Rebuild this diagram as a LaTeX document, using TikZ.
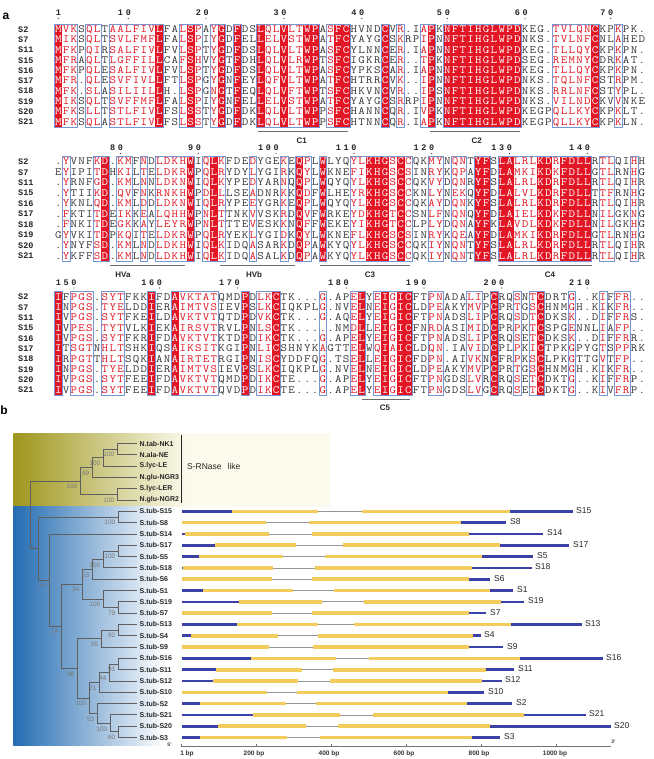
\documentclass[tikz,border=0pt]{standalone}
\usepackage{fontspec}
\setmainfont{Liberation Sans}
\setsansfont{Liberation Sans}
\newfontfamily\monofnt{Liberation Mono}
\usepackage{graphicx}

\definecolor{espred}{RGB}{226,22,36}
\definecolor{espbox}{RGB}{118,150,212}
\definecolor{esptxt}{RGB}{55,55,55}
\definecolor{featgray}{RGB}{110,110,110}
\definecolor{treegray}{RGB}{95,95,95}
\definecolor{bootgray}{RGB}{120,120,120}
\definecolor{olv}{RGB}{158,150,28}
\definecolor{olvlight}{RGB}{251,250,236}
\definecolor{blu}{RGB}{36,108,178}
\definecolor{exonY}{RGB}{242,204,92}
\definecolor{utrB}{RGB}{58,66,168}
\definecolor{intronG}{RGB}{150,150,150}

\tikzset{
 seqbase/.style={inner sep=0pt, anchor=base},
 seqn/.style={seqbase, text=esptxt, font=\ttfamily\fontsize{11}{11}\selectfont\addfontfeature{FakeBold=0.6}},
 seqb/.style={seqbase, text=espred, font=\ttfamily\fontsize{11}{11}\selectfont\addfontfeature{FakeBold=0.6}},
 seqR/.style={seqbase, text=white, font=\ttfamily\fontsize{11}{11}\selectfont\addfontfeature{FakeBold=1.6}},
 seqname/.style={inner sep=0pt, anchor=base west, font=\monofnt\bfseries\fontsize{8.5}{8.5}\selectfont, text=black!85},
 rul/.style={inner sep=0pt, anchor=base, font=\monofnt\bfseries\fontsize{8.5}{8.5}\selectfont, text=black!85},
 boxline/.style={draw=espbox, line width=0.55pt},
 featline/.style={draw=featgray, line width=0.9pt},
 featlab/.style={inner sep=0pt, font=\sffamily\bfseries\fontsize{8}{8}\selectfont, text=black!85},
 panlab/.style={inner sep=0pt, font=\sffamily\bfseries\fontsize{12}{12}\selectfont},
 treeline/.style={draw=treegray, line width=0.9pt},
 boot/.style={inner sep=0pt, anchor=east, font=\sffamily\fontsize{6.5}{6.5}\selectfont, text=bootgray},
 leaflab/.style={inner sep=0pt, anchor=west, font=\sffamily\bfseries\fontsize{7}{7}\selectfont, text=black!85},
 genelab/.style={inner sep=0pt, anchor=west, font=\sffamily\fontsize{8.5}{8.5}\selectfont, text=black!85},
 utr/.style={draw=utrB, line width=2.6pt},
 exon/.style={draw=exonY, line width=3.6pt},
 intr/.style={draw=intronG, line width=0.8pt},
 axisl/.style={draw=black!55, line width=0.7pt},
 axlab/.style={inner sep=0pt, font=\sffamily\bfseries\fontsize{6.5}{6.5}\selectfont, text=black!80},
}

\newcount\colno
\newcount\runstart
\newcount\runend
\def\xo{58.3}
\def\pp{7.78}

\def\DrawBoxM{\draw[boxline] ({\xo+(\the\runstart-1.5)*\pp},\ytop) rectangle ({\xo+(\the\runend-0.5)*\pp},\ybot);}
\def\FillColM{\fill[espred] ({\xo+(\the\colno-1.5)*\pp-0.1},\ytop) rectangle ({\xo+(\the\colno-0.5)*\pp+0.1},\ybot);}

\def\ColStep#1{%
  \ifx#1!%
    \ifnum\runstart>0 \runend=\colno \advance\runend by -1 \DrawBoxM\fi
    \let\nxt\relax
  \else
    \ifx#1.%
      \ifnum\runstart>0 \runend=\colno \advance\runend by -1 \DrawBoxM \runstart=0 \fi
    \else
      \ifnum\runstart=0 \runstart=\colno\fi
      \ifx#1R\FillColM\fi
    \fi
    \advance\colno by 1
    \let\nxt\ColStep
  \fi
  \nxt}

\def\BlockCols#1#2{\def\ytop{#1}\def\ybot{#2}\colno=1 \runstart=0 \expandafter\ColStep\cls!}

\def\PlaceChar#1#2{%
  \ifx#2R\node[seqR] at ({\xo+(\the\colno-1)*\pp},\ybase) {\scalebox{1.15}[1]{#1}};%
  \else\ifx#2b\node[seqb] at ({\xo+(\the\colno-1)*\pp},\ybase) {\scalebox{1.15}[1]{#1}};%
  \else\node[seqn] at ({\xo+(\the\colno-1)*\pp},\ybase) {\scalebox{1.15}[1]{#1}};%
  \fi\fi}

\def\RowStep#1#2\relax#3#4\relax{%
  \ifx#1!\let\nxt\relax\else
    \PlaceChar#1#3%
    \advance\colno by 1
    \def\nxt{\RowStep#2\relax#4\relax}%
  \fi\nxt}

\def\SeqRow#1#2#3{%
  \node[seqname] (nm#1#2) at (18,{#2+2.9}) {#1};%
  \def\ybase{#2+3.3}%
  \colno=1
  \edef\tmp{\noexpand\RowStep#3!\relax\cls..........!\relax}\tmp}

\def\RulDigit#1#2#3{\node[rul] at ({\xo+(#1-1)*\pp},#2) {#3};}
\def\RulOne#1#2#3{\RulDigit{#1}{#2}{#3}\fill[black!80] ({\xo+(#1-1)*\pp},#2+2.5) circle (0.6);}
\def\RulTwo#1#2#3#4{\RulDigit{#1-1}{#2}{#3}\RulOne{#1}{#2}{#4}}
\def\RulThree#1#2#3#4#5{\RulDigit{#1-2}{#2}{#3}\RulTwo{#1}{#2}{#4}{#5}}

\def\Feat#1#2#3#4#5#6{\draw[featline] (#1,#3) -- (#2,#3); \node[featlab] (f#6) at (#4,#5) {#6};}

\def\Gene#1#2#3#4#5#6#7#8{%
  \draw[intr] (#3,#1) -- (#4,#1);
  \draw[exon] (#2,#1) -- (#3,#1);
  \draw[exon] (#4,#1) -- (#5,#1);
  \draw[utr] (181.7,#1) -- (#2,#1);
  \draw[utr] (#5,#1) -- (#6,#1);
  \node[genelab] (g#8) at (#7,#1-1) {#8};}

\begin{document}
\begin{tikzpicture}[x=1pt,y=-1pt]
\useasboundingbox (0,0) rectangle (653,759);
\fill[white] (0,0) rectangle (653,759);

\node[panlab] (pa) at (6,16) {a};

% ---------------- Block 1
\def\cls{Rbb.bb.bbbbbbR..bRb.bR.R..RbbRbbRR.bRR....R.b..bR.RRRRRRRRRR....bbbbbR..b...}
\BlockCols{24.1}{126.9}
\SeqRow{S2}{29.3}{MVKSQLTAALFIVLFALSPAYGDFDSLQLVLTWPASFCHVNDCVR.IAPKNFTIHGLWPDKEG.TVLQNCKPKPK.}
\SeqRow{S7}{39.57}{MIKSQLTSVLFMFLFALSPIYGDFELLELVSTWPATFCYAYGCSKRPIPNNFTIHGLWPDNKS.TVLNFCNLAHED}
\SeqRow{S11}{49.84}{MFKPQIRSALFIVLFVLSPTYGDFDSLQLVLTWPASFCYLNNCER.IAPNNFTIHGLWPDKEG.TLLQYCKPKPN.}
\SeqRow{S15}{60.11}{MFRAQLTLGFFILLCAFSHVYGTFDHLQLVLRWPTSFCIGKRCER..TPKNFTIHGLWPDSEG.REMNYCDRKAT.}
\SeqRow{S16}{70.38}{MFKPQLESALFIVLFVLSPTYGDFDSLQLVLTWPASFCYPKSCAR.IAPNNFTIHGLWPDKEG.TLLQYCKPKPN.}
\SeqRow{S17}{80.65}{MFR.QLESVFIVLLFTLSPGYGNFEYLQFVLTWPATFCHTRRCVK..IPNNFTIHGLWPDNKS.TQLNFCSTRPM.}
\SeqRow{S18}{90.92}{MFK.SLASILIILLH.LSPGNGTFEQLQLVFTWPTSFCHKVNCVR..IPSNFTIHGLWPDNKS.RRLNFCSTYPL.}
\SeqRow{S19}{101.19}{MIKSQLTSVFFMFLFALSPIYGNFELLELVSTWPATFCYAYGCSRRPIPNNFTIHGLWPDNKS.VILNDCKVVNKE}
\SeqRow{S20}{111.46}{MFKSLLTSTLFIVLFSLSSTYGDFDKLQLVLTWPPSFCHANNCQR.IVPKNFTIHGLWPDKEGPQLLKYCKPKLT.}
\SeqRow{S21}{121.73}{MFKSQLASTLFIVLFSLSSTYGDFDKLQLVLTWPPSFCHTNNCQR.IAPKNFTIHGLWPDKEGPQLLKYCKPKLN.}
\RulOne{1}{16}{1}
\RulTwo{10}{16}{1}{0}
\RulTwo{20}{16}{2}{0}
\RulTwo{30}{16}{3}{0}
\RulTwo{40}{16}{4}{0}
\RulTwo{51}{16}{5}{0}
\RulTwo{61}{16}{6}{0}
\RulTwo{72}{16}{7}{0}
\Feat{258}{348}{131.7}{301.7}{141.2}{C1}
\Feat{430}{520}{131.7}{476.7}{141.2}{C2}

% ---------------- Block 2
\def\cls{.b...bR.bb.b.bbbbR.bRb...b...b.Rb.R...bbRRRbRb..bb.bb.RR.RRbbbRRbRRRR.bb..b.}
\BlockCols{156.4}{261.0}
\SeqRow{S2}{161.7}{.YVNFKD.KMFNDLDKHWIQLKFDEDYGEKEQPLWLYQYLKHGSCCQKMYNQNTYFSLALRLKDRFDLLRTLQIHH}
\SeqRow{S7}{172.15}{EYIPITDHKILTELDKRWPQLRYDYLYGIRKQYLWKNEFIKHGSCSINRYKQPAYFDLAMKIKDKFDLLGTLRNHG}
\SeqRow{S11}{182.6}{.YRNFGD.KMLNNLDKNWIQLKYPEDYARNQQPLWQYQYLKHGSCCQKVYDQNRYFSLALRLKDRFDLLRTLQIHR}
\SeqRow{S15}{193.05}{.YTIIKD.QVFNKRNKHWPDLLLSEADNRKKQDFWLHEYRKHGSCCKNLYNEKQYFDLALVLKDRFDLLTTFRNHG}
\SeqRow{S16}{203.5}{.YKNLQD.KMLDDLDKNWIQLRYPEEYGRKEQPLWQYQYLKHGSCCQKAYDQNKYFSLALRLKDRFDLLRTLQIHR}
\SeqRow{S17}{213.95}{.FKTITDEIKKEALQHHWPNLTTNKVVSKRDQVFWRKEYDKHGTCCSNLFNQNQYFDLAIELKDKFDLLNILGKNG}
\SeqRow{S18}{224.4}{.FNKITDEGKKAYLEYRWPNLTTTEVESKKNQFFWEKEYIKHGTCCLPLYDQNAYFKLAVDLKDKFDLLNILGKHG}
\SeqRow{S19}{234.85}{GYVKITDPKQITELDKRWPQLRYEKLYGIDKQYLWKNEFLKHGSCSINRYKQEAYFDLAMKIKDRFDLLGTLRNHG}
\SeqRow{S20}{245.3}{.YNYFSD.KMLNDLDKHWIQLKIDQASARKDQPAWKYQYLKHGSCCQKIYNQNTYFSLALRLKDRFDLLRTLQIHR}
\SeqRow{S21}{255.75}{.YKFFSD.KMLNDLDKHWIQLKIDQASALKDQPAWKYQYLKHGSCCQKIYNQNTYFSLALRLKDRFDLLRTLQIHR}
\RulTwo{9}{151}{8}{0}
\RulTwo{19}{151}{9}{0}
\RulThree{29}{151}{1}{0}{0}
\RulThree{39}{151}{1}{1}{0}
\RulThree{49}{151}{1}{2}{0}
\RulThree{59}{151}{1}{3}{0}
\RulThree{69}{151}{1}{4}{0}
\Feat{110}{185}{265.7}{123}{274.5}{HVa}
\Feat{220}{295}{265.7}{254}{274.5}{HVb}
\Feat{320}{410}{265.7}{370}{274.5}{C3}
\Feat{498}{592}{265.7}{550}{274.5}{C4}

% ---------------- Block 3
\def\cls{R.bbb.bbb...R..Rbbbbb...R.bbR.....b...bR.bRbRR..bb...bb.R..b.bR...b...b.bb..}
\BlockCols{291.7}{395.0}
\SeqRow{S2}{297}{IFPGS.SYTFKKIFDAVKTATQMDPDLKCTK...G.APELYEIGICFTPNADALIPCRQSNTCDRTG..KIFFR..}
\SeqRow{S7}{307.3}{INPGS.TYELDDIERAIMTVSIEVPSLKCIQKPLG.NVELNEIGICLDPEAKYMVPCPRTGSCHNMGH.KIKFR..}
\SeqRow{S11}{317.6}{IVPGS.SYTFKEILDAVKTVTQTDPDVKCTK...G.AQELYEIGICFTPNADSLIPCRQSDTCDKSK..DIFFRS.}
\SeqRow{S15}{327.9}{IVPES.TYTVLKIEKAIRSVTRVLPNLSCTK.....NMDLLEIGICFNRDASIMIDCPRPKTCSPGENNLIAFP..}
\SeqRow{S16}{338.2}{IVPGS.SYTFKRIFDAVKTVTKTDPDIKCTK...G.APELYEIGICFTPNADSLIPCRQSETCDKSK..DIFFRR.}
\SeqRow{S17}{348.5}{ITSGTNHLTSHKIQSAIKSITKGIPNLICSHNYKAGTTELWQIAICLDQN.IAVIDCPLPKICTPKGPYGTSPPRK}
\SeqRow{S18}{358.8}{IRPGTTHLTSQKIANAIRTETRGIPNISCYDDFQG.TSELLEIGICFDPN.AIVKNCFRPKSCLPKGTTGVTFP..}
\SeqRow{S19}{369.1}{INPGS.TYELDDIERAIMTVSIEVPSLKCIQKPLG.NVELNEIGICLDPEAKYMVPCPRTGSCHNMGH.KIKFR..}
\SeqRow{S20}{379.4}{IVPGS.SYTFEEIFDAVKTVTQMDPDIKCTE...G.APELYEIGICFTPNGDSLVRCRQSETCDKTG..KIFFRP.}
\SeqRow{S21}{389.7}{IVPGS.SYTFEEIFDAVKTVTQVDPDIKCTE...G.APELYEIGICFTPNGDSLVGCRQSETCDKTG..KIVFRP.}
\RulThree{3}{285.5}{1}{5}{0}
\RulThree{14}{285.5}{1}{6}{0}
\RulThree{24}{285.5}{1}{7}{0}
\RulThree{38}{285.5}{1}{8}{0}
\RulThree{48}{285.5}{1}{9}{0}
\RulThree{58}{285.5}{2}{0}{0}
\RulThree{69}{285.5}{2}{1}{0}
\Feat{361.7}{410}{399.5}{385}{408}{C5}

% ================= Panel b
\node[panlab] (pb) at (4,410) {b};
\shade[left color=olv, right color=olvlight] (13.3,433.3) rectangle (186,506.5);
\fill[olvlight] (185.5,433.3) rectangle (330,506.5);
\shade[left color=blu, right color=white] (13.3,506.5) rectangle (165,745);

% leaves
\foreach \k/\lab in {0/N.tab-NK1,1/N.ala-NE,2/S.lyc-LE,3/N.glu-NGR3,4/S.lyc-LER,5/N.glu-NGR2,
  6/S.tub-S15,7/S.tub-S8,8/S.tub-S14,9/S.tub-S17,10/S.tub-S5,11/S.tub-S18,12/S.tub-S6,13/S.tub-S1,
  14/S.tub-S19,15/S.tub-S7,16/S.tub-S13,17/S.tub-S4,18/S.tub-S9,19/S.tub-S16,20/S.tub-S11,
  21/S.tub-S12,22/S.tub-S10,23/S.tub-S2,24/S.tub-S21,25/S.tub-S20,26/S.tub-S3}{
  \coordinate (l\k) at (137,{443.5+11.31*\k});
  \node[leaflab] (t\k) at (139.5,{443.5+11.31*\k}) {\lab};
}

% internal nodes
\coordinate (n1) at (117,449.16);
\coordinate (n2) at (103,457.64);
\coordinate (n3) at (92,467.53);
\coordinate (n4) at (117,494.40);
\coordinate (n5) at (80,480.97);
\coordinate (b1) at (118,517.02);
\coordinate (b2) at (118,550.95);
\coordinate (b3) at (103,559.43);
\coordinate (b4) at (92,569.33);
\coordinate (b5) at (118,607.50);
\coordinate (b6) at (103,599.01);
\coordinate (b7) at (82,584.17);
\coordinate (b8) at (118,630.12);
\coordinate (b9) at (101,638.60);
\coordinate (b10) at (118,664.05);
\coordinate (b11) at (109,672.53);
\coordinate (b12) at (99,682.43);
\coordinate (b13) at (118,731.91);
\coordinate (b14) at (110,723.42);
\coordinate (b15) at (97,713.53);
\coordinate (b16) at (89,697.98);
\coordinate (b17) at (77,668.29);
\coordinate (b18) at (61,626.23);
\coordinate (b19) at (49,580.11);
\coordinate (b20) at (38,548.56);
\coordinate (r0) at (30,514.77);

\foreach \p/\c in {n1/l0,n1/l1,n2/n1,n2/l2,n3/n2,n3/l3,n4/l4,n4/l5,n5/n3,n5/n4,
  b1/l6,b1/l7,b2/l9,b2/l10,b3/b2,b3/l11,b4/b3,b4/l12,b5/l14,b5/l15,b6/l13,b6/b5,b7/b4,b7/b6,
  b8/l16,b8/l17,b9/b8,b9/l18,b10/l19,b10/l20,b11/b10,b11/l21,b12/b11,b12/l22,
  b13/l25,b13/l26,b14/l24,b14/b13,b15/l23,b15/b14,b16/b12,b16/b15,b17/b9,b17/b16,
  b18/b7,b18/b17,b19/l8,b19/b18,b20/b1,b20/b19,r0/n5,r0/b20}{
  \draw[treeline] (\p) |- (\c);
}

% bootstrap values
\foreach \n/\v in {n1/100,n2/100,n3/99,n4/100,n5/100,b1/100,b2/100,b3/100,b4/53,b5/79,b6/100,b7/34,
  b8/92,b9/95,b10/91,b11/44,b12/71,b13/60,b14/100,b15/53,b16/100,b17/98,b18/14,b19/54}{
  \node[boot] (bs\n) at ([xshift=-2.5pt,yshift=-5.5pt]\n) {\v};
}

% S-RNase like
\coordinate (srt) at (181.7,435);
\coordinate (srb) at (181.7,503.3);
\draw[black!85, line width=1pt] (srt) -- (srb);
\node[genelab] (srn) at (187,466.7) {S-RNase\hspace{6pt}like};

% gene structures
\Gene{511.36}{232.3}{318.3}{361.7}{510}{572.7}{576}{S15}
\Gene{522.67}{181.7}{265.7}{309.3}{460.7}{506}{510}{S8}
\Gene{533.98}{185}{269.3}{311.7}{469}{543.3}{547}{S14}
\Gene{545.29}{215}{296}{342.7}{500}{569}{573}{S17}
\Gene{556.60}{199.3}{283.3}{325}{482.3}{533.3}{537}{S5}
\Gene{567.91}{183.3}{273.3}{315}{471.7}{531.7}{535}{S18}
\Gene{579.22}{181.7}{271.7}{311.7}{469}{490}{494}{S6}
\Gene{590.53}{203.3}{292.7}{334}{490}{513.3}{517}{S1}
\Gene{601.84}{239}{321.7}{364.3}{500.7}{524}{528}{S19}
\Gene{613.15}{181.7}{271.7}{311.7}{469}{486}{490}{S7}
\Gene{624.46}{236.7}{318.3}{354.3}{511}{581.7}{585}{S13}
\Gene{635.77}{190.7}{278.3}{318.3}{473.3}{480.7}{484}{S4}
\Gene{647.08}{181.7}{269.3}{312.7}{469}{503.3}{507}{S9}
\Gene{658.39}{250.7}{336}{369.3}{520}{602.7}{606}{S16}
\Gene{669.70}{216}{301.7}{333.3}{485.7}{514}{518}{S11}
\Gene{681.01}{212.7}{298.3}{330}{482.3}{501.7}{505}{S12}
\Gene{692.32}{181.7}{266.7}{296.7}{448.3}{484.3}{488}{S10}
\Gene{703.63}{200}{286}{316}{466.7}{512.3}{516}{S2}
\Gene{714.94}{253.3}{340}{372.7}{524}{585.7}{589}{S21}
\Gene{726.25}{218.3}{306}{338.3}{490}{611}{614}{S20}
\Gene{737.56}{200}{287.3}{320}{471.7}{500}{504}{S3}

% axis
\coordinate (ax0) at (181.7,746.7);
\coordinate (ax1) at (611,746.7);
\draw[axisl] (ax0) -- (ax1);
\foreach \t in {181.7,256.3,331.3,406.3,481.3,556.3}{\draw[axisl] (\t,746.7) -- (\t,744.3);}
\node[axlab] (a1) at (187,754) {1 bp};
\node[axlab] (a2) at (254,754) {200 bp};
\node[axlab] (a3) at (329,754) {400 bp};
\node[axlab] (a4) at (404,754) {600 bp};
\node[axlab] (a5) at (479,754) {800 bp};
\node[axlab] (a6) at (555,754) {1000 bp};
\node[axlab, font=\sffamily\bfseries\fontsize{5}{5}\selectfont] (p5) at (169.5,745) {5'};
\node[axlab, font=\sffamily\bfseries\fontsize{5}{5}\selectfont] (p3) at (613.5,741.5) {3'};
\end{tikzpicture}
\end{document}
